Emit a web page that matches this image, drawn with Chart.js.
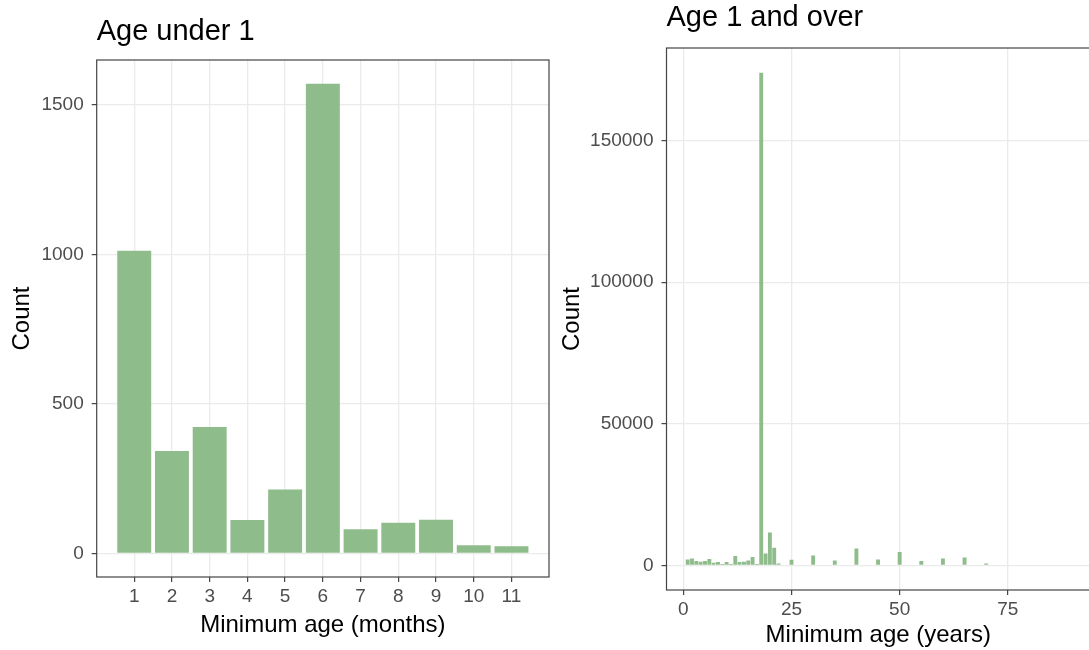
<!DOCTYPE html>
<html>
<head>
<meta charset="utf-8">
<script src="https://cdn.jsdelivr.net/npm/chart.js@4/dist/chart.umd.min.js"></script>
<style>
  html, body { margin: 0; padding: 0; background: #fff; overflow: hidden; width: 1089px; height: 650px; }
  #under1 { position: absolute; left: 0; top: 0; }
  #over1 { position: absolute; left: 555px; top: 0; }
</style>
</head>
<body>
<canvas id="under1" width="560" height="650"></canvas>
<canvas id="over1" width="540" height="650"></canvas>
<script>
// months panel
const monthLabels = [1, 2, 3, 4, 5, 6, 7, 8, 9, 10, 11];
const monthCounts = [1013, 343, 423, 112, 214, 1571, 81, 103, 113, 28, 24];
const monthYTicks = [0, 500, 1000, 1500];

// years panel
const yearAges = [1, 2, 3, 4, 5, 6, 7, 8, 9, 10, 11, 12, 13, 14, 15, 16, 17, 18, 19, 20, 21, 22,
                  25, 30, 35, 40, 45, 50, 55, 60, 65, 70];
const yearCounts = [2100, 2460, 1530, 1290, 1530, 2230, 940, 1170, 470, 1170, 470, 3290, 1170, 1290, 1760, 2930, 470,
                    174000, 4220, 11600, 6220, 700,
                    2000, 3520, 1760, 5990, 2110, 4690, 1530, 2460, 2820, 700];
const yearXTicks = [0, 25, 50, 75];
const yearYTicks = [0, 50000, 100000, 150000];

const FONT = '"Liberation Sans", Arial, sans-serif';
const BAR = '#8FBC8B';
Chart.defaults.font.family = FONT;
Chart.defaults.animation = false;

// frame round the panel + panel title at the panel's left edge
const panelFrame = {
  id: 'panelFrame',
  afterDraw(chart, args, opts) {
    const { ctx, chartArea: a } = chart;
    ctx.save();
    ctx.strokeStyle = '#444444';
    ctx.lineWidth = 1.2;
    ctx.strokeRect(a.left, a.top, a.right - a.left, a.bottom - a.top);
    ctx.fillStyle = '#000';
    ctx.font = '29px ' + FONT;
    ctx.textBaseline = 'middle';
    ctx.textAlign = 'left';
    ctx.fillText(opts.text, a.left, opts.y);
    ctx.restore();
  }
};

function fixedTicks(list) {
  return function (scale) {
    scale.ticks = list.map(v => ({ value: v }));
  };
}

function makeOptions(cfg) {
  return {
    responsive: false,
    layout: { padding: { top: cfg.top, right: cfg.right, bottom: 0, left: 0 } },
    plugins: {
      legend: { display: false },
      tooltip: { enabled: false },
      panelFrame: { text: cfg.title, y: cfg.titleY }
    },
    scales: {
      x: {
        type: 'linear',
        min: cfg.xMin,
        max: cfg.xMax,
        offset: false,
        afterBuildTicks: fixedTicks(cfg.xTicks),
        afterFit(scale) { scale.height = cfg.xHeight; },
        grid: { color: '#EBEBEB', lineWidth: 1.3, offset: false, tickColor: '#333333', tickLength: 5, tickWidth: 1.1 },
        border: { display: false },
        ticks: { color: '#4D4D4D', font: { size: 19 }, padding: 3, maxRotation: 0, autoSkip: false,
                 callback: v => String(v) },
        title: {
          display: true,
          text: cfg.xTitle,
          color: '#000',
          font: { size: 24, lineHeight: 1.2 },
          padding: { top: 0, bottom: cfg.xTitlePad }
        }
      },
      y: {
        type: 'linear',
        min: cfg.yMin,
        max: cfg.yMax,
        afterBuildTicks: fixedTicks(cfg.yTicks),
        afterFit(scale) { scale.width = cfg.yWidth; },
        grid: { color: '#EBEBEB', lineWidth: 1.3, tickColor: '#333333', tickLength: 5, tickWidth: 1.1 },
        border: { display: false },
        ticks: { color: '#4D4D4D', font: { size: 19 }, padding: 8, callback: v => String(v) },
        title: {
          display: true,
          text: 'Count',
          color: '#000',
          font: { size: 24, lineHeight: 1.2 },
          padding: { top: cfg.yTitlePad, bottom: 0 }
        }
      }
    }
  };
}

new Chart(document.getElementById('under1'), {
  type: 'bar',
  data: {
    datasets: [{
      data: monthLabels.map((m, i) => ({ x: m, y: monthCounts[i] })),
      backgroundColor: BAR,
      borderWidth: 0,
      barPercentage: 0.9,
      categoryPercentage: 1
    }]
  },
  options: makeOptions({
    top: 60, right: 11,
    title: 'Age under 1', titleY: 32,
    xMin: 0.005, xMax: 11.995, xTicks: monthLabels, xHeight: 73, xTitlePad: 10.6,
    xTitle: 'Minimum age (months)',
    yMin: -78.6, yMax: 1650.6, yTicks: monthYTicks, yWidth: 96.7, yTitlePad: 7.6
  }),
  plugins: [panelFrame]
});

new Chart(document.getElementById('over1'), {
  type: 'bar',
  data: {
    datasets: [{
      data: yearAges.map((a, i) => ({ x: a, y: yearCounts[i] })),
      backgroundColor: BAR,
      borderWidth: 0,
      barPercentage: 0.9,
      categoryPercentage: 1
    }]
  },
  options: makeOptions({
    top: 48, right: 5,
    title: 'Age 1 and over', titleY: 18,
    xMin: -3.9, xMax: 94, xTicks: yearXTicks, xHeight: 60, xTitlePad: 0,
    xTitle: 'Minimum age (years)',
    yMin: -8700, yMax: 182700, yTicks: yearYTicks, yWidth: 111.5, yTitlePad: 2.6
  }),
  plugins: [panelFrame]
});
</script>
</body>
</html>
